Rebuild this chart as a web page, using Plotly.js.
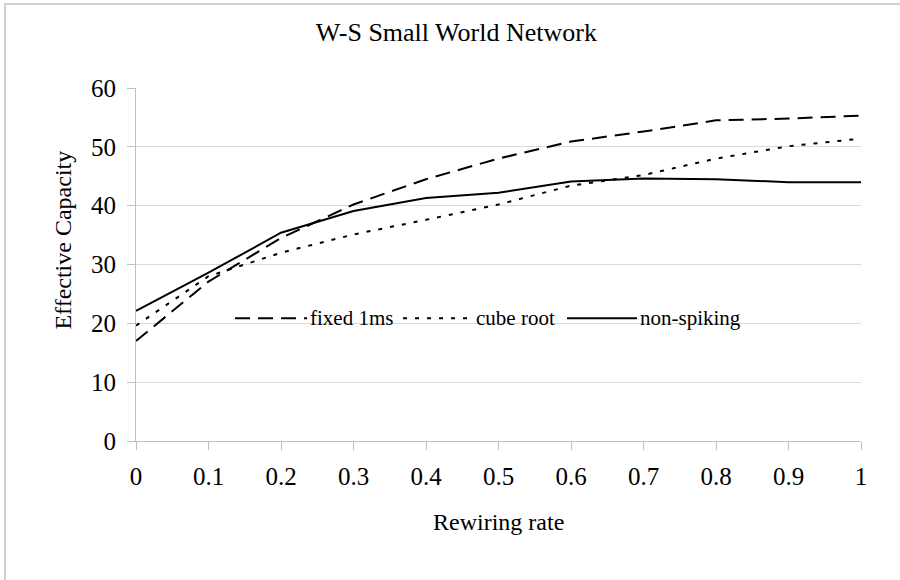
<!DOCTYPE html>
<html>
<head>
<meta charset="utf-8">
<script src="https://cdn.plot.ly/plotly-3.0.1.min.js"></script>
<style>html,body{margin:0;padding:0;background:#fff;}#chart{width:900px;height:580px;}</style>
</head>
<body>
<div id="chart"></div>
<script>
const rewiring = [0, 0.1, 0.2, 0.3, 0.4, 0.5, 0.6, 0.7, 0.8, 0.9, 1];
const fixed1ms = [17.0, 27.1, 34.5, 40.2, 44.5, 48.0, 50.9, 52.6, 54.5, 54.8, 55.3];
const cubeRoot = [19.6, 28.0, 32.0, 35.1, 37.6, 40.2, 43.4, 45.2, 48.0, 50.1, 51.4];
const nonSpiking = [22.1, 28.6, 35.4, 39.1, 41.3, 42.2, 44.1, 44.6, 44.5, 44.0, 44.0];
const seriesNames = ['fixed 1ms', 'cube root', 'non-spiking'];
const xTicks = [0, 0.1, 0.2, 0.3, 0.4, 0.5, 0.6, 0.7, 0.8, 0.9, 1];
const xTickText = ['0', '0.1', '0.2', '0.3', '0.4', '0.5', '0.6', '0.7', '0.8', '0.9', '1'];
const yTicks = [0, 10, 20, 30, 40, 50, 60];

const font = 'Liberation Serif, Times New Roman, serif';
const dashes = ['15px,8px', '4px,8px', 'solid'];
const values = [fixed1ms, cubeRoot, nonSpiking];
const traces = values.map((v, i) => ({
  x: rewiring, y: v, name: seriesNames[i], mode: 'lines',
  line: {color: '#000', width: 2, dash: dashes[i]}
}));

// custom legend (long line samples like the original)
const legLines = [[0.1366, 0.2359], [0.3683, 0.4648], [0.5945, 0.6910]];
const legY = 0.348;
const shapes = [{type: 'rect', xref: 'paper', yref: 'paper', x0: -0.1807, x1: 1.2, y0: -0.6, y1: 1.238, line: {color: '#d0d0d0', width: 2}, layer: 'below'}];
const annotations = [];
legLines.forEach((p, i) => {
  shapes.push({type: 'line', xref: 'paper', yref: 'paper', x0: p[0], x1: p[1], y0: legY, y1: legY, line: {color: '#000', width: 2, dash: dashes[i]}});
  annotations.push({xref: 'paper', yref: 'paper', x: p[1] + 0.002, y: legY, xanchor: 'left', yanchor: 'middle', text: seriesNames[i], showarrow: false, font: {family: font, size: 21, color: '#000'}, bgcolor: 'rgba(255,255,255,0)'});
});
annotations.push({xref: 'paper', yref: 'paper', x: 0.5, y: -0.23, xanchor: 'center', yanchor: 'middle', text: 'Rewiring rate', showarrow: false, font: {family: font, size: 24, color: '#000'}});
annotations.push({xref: 'paper', yref: 'paper', x: -0.101, y: 0.57, xanchor: 'center', yanchor: 'middle', textangle: -90, text: 'Effective Capacity', showarrow: false, font: {family: font, size: 24, color: '#000'}});

const layout = {
  width: 900, height: 580,
  margin: {l: 136, r: 39, t: 88, b: 139},
  paper_bgcolor: '#fff', plot_bgcolor: '#fff',
  font: {family: font, color: '#000', size: 24},
  title: {text: 'W-S Small World Network', font: {family: font, size: 26, color: '#000'}, x: 0.507, xanchor: 'center', y: 0.945, yanchor: 'middle'},
  xaxis: {
    range: [0, 1], tickvals: xTicks, ticktext: xTickText,
    showgrid: false, zeroline: false, showline: true, linecolor: '#bfbfbf', linewidth: 1,
    ticks: 'outside', ticklen: 8, tickcolor: '#bfbfbf', tickfont: {size: 25}, ticklabelstandoff: 5
  },
  yaxis: {
    range: [0, 60], tickvals: yTicks,
    showgrid: true, gridcolor: '#d9d9d9', gridwidth: 1, zeroline: false,
    showline: true, linecolor: '#bfbfbf', linewidth: 1,
    ticks: 'outside', ticklen: 8, tickcolor: '#bfbfbf', tickfont: {size: 25}, ticklabelstandoff: 6
  },
  showlegend: false,
  shapes: shapes,
  annotations: annotations
};
Plotly.newPlot('chart', traces, layout, {displayModeBar: false, staticPlot: true});
</script>
</body>
</html>
